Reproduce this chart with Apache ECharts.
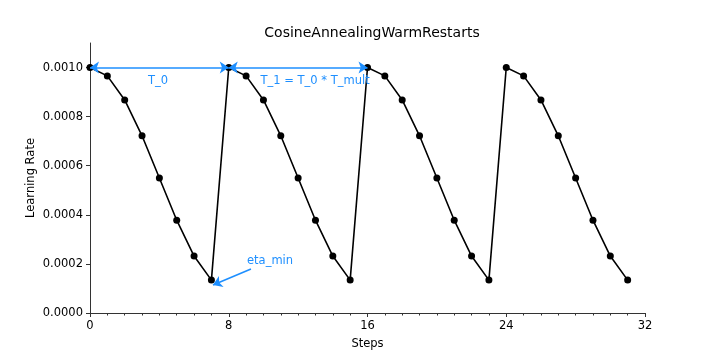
<!DOCTYPE html>
<html>
<head>
<meta charset="utf-8">
<script src="https://cdn.jsdelivr.net/npm/echarts@6/dist/echarts.min.js"></script>
<style>html,body{margin:0;padding:0;background:#fff}#c{width:716px;height:358px}</style>
</head>
<body>
<div id="c"></div>
<script>
// Data
const steps = [0,1,2,3,4,5,6,7,8,9,10,11,12,13,14,15,16,17,18,19,20,21,22,23,24,25,26,27,28,29,30,31];
const learningRate = [
  0.001, 0.000966, 0.000868, 0.000722, 0.00055, 0.000378, 0.000232, 0.000134,
  0.001, 0.000966, 0.000868, 0.000722, 0.00055, 0.000378, 0.000232, 0.000134,
  0.001, 0.000966, 0.000868, 0.000722, 0.00055, 0.000378, 0.000232, 0.000134,
  0.001, 0.000966, 0.000868, 0.000722, 0.00055, 0.000378, 0.000232, 0.000134
];
const xTicks = [0, 8, 16, 24, 32];
const yTicks = [0, 0.0002, 0.0004, 0.0006, 0.0008, 0.001];
// annotations (data coordinates)
const arrowT0 = [[0, 0.001], [8, 0.001]];
const arrowT1 = [[8, 0.001], [16, 0.001]];
const arrowEta = [[9.28, 0.000179], [7.09, 0.000114]];
const labelT0 = {text: 'T_0', at: [3.92, 0.000947]};
const labelT1 = {text: 'T_1 = T_0 * T_mult', at: [12.98, 0.000947]};
const labelEta = {text: 'eta_min', at: [10.38, 0.000211]};

const FONT = 'DejaVu Sans';
const BLUE = '#1e8fff';
const chart = echarts.init(document.getElementById('c'));
const pts = steps.map((s, i) => [s, learningRate[i]]);
function textPt(l) {
  return {coord: l.at, value: l.text, symbol: 'circle', symbolSize: 0,
    label: {show: true, position: 'inside', formatter: l.text, color: BLUE, fontSize: 11.5, fontFamily: FONT}};
}
chart.setOption({
  animation: false,
  title: {text: 'CosineAnnealingWarmRestarts', left: 367, textAlign: 'center', top: 21,
    textStyle: {fontFamily: FONT, fontSize: 14, fontWeight: 'normal', color: '#000'}},
  grid: {left: 90, right: 71, top: 43, bottom: 45},
  xAxis: {
    type: 'value', min: 0, max: 32, interval: 8,
    name: 'Steps', nameLocation: 'middle', nameGap: 25,
    nameTextStyle: {fontFamily: FONT, fontSize: 11.5, color: '#000'},
    axisLine: {show: true, onZero: false, lineStyle: {color: '#333', width: 1}},
    axisTick: {show: true, length: 4, lineStyle: {color: '#333'}},
    minorTick: {show: true, splitNumber: 8, length: 2.5, lineStyle: {color: '#333'}},
    axisLabel: {fontFamily: FONT, fontSize: 11.5, color: '#000', margin: 7,
      customValues: xTicks},
    splitLine: {show: false}
  },
  yAxis: {
    type: 'value', min: 0, max: 0.0011,
    name: 'Learning Rate', nameLocation: 'middle', nameGap: 53, nameMoveOverlap: false,
    nameTextStyle: {fontFamily: FONT, fontSize: 11.5, color: '#000'},
    axisLine: {show: true, lineStyle: {color: '#333', width: 1}},
    axisTick: {show: true, length: 4, lineStyle: {color: '#333'}, customValues: yTicks},
    axisLabel: {fontFamily: FONT, fontSize: 11.5, color: '#000', margin: 7,
      customValues: yTicks, formatter: v => v.toFixed(4)},
    splitLine: {show: false}
  },
  series: [{
    type: 'line', data: pts, symbol: 'circle', symbolSize: 7,
    itemStyle: {color: '#000'}, lineStyle: {color: '#000', width: 1.6},
    silent: true, z: 3,
    markLine: {
      silent: true, symbol: ['arrow', 'arrow'], symbolSize: 9,
      lineStyle: {color: BLUE, width: 1.6, type: 'solid'},
      label: {show: false}, emphasis: {disabled: true},
      data: [
        [{coord: arrowT0[0]}, {coord: arrowT0[1]}],
        [{coord: arrowT1[0]}, {coord: arrowT1[1]}],
        [{coord: arrowEta[0], symbol: 'none'}, {coord: arrowEta[1], symbol: 'arrow'}]
      ]
    },
    markPoint: {silent: true, data: [textPt(labelT0), textPt(labelT1), textPt(labelEta)]}
  }]
});
</script>
</body>
</html>
